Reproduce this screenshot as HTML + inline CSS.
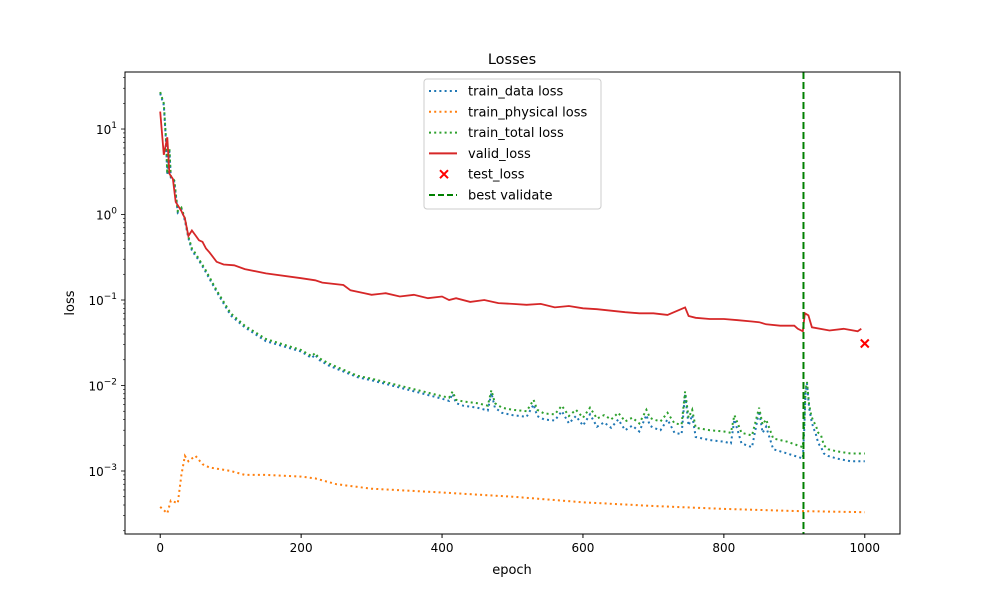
<!DOCTYPE html>
<html><head><meta charset="utf-8"><style>
body{margin:0;background:#fff;}
svg{display:block;font-family:"DejaVu Sans","Liberation Sans",sans-serif;}
</style></head><body>
<svg id="chart" width="1000" height="600"></svg>
<script>
const validEpochs=[0,5,10,13,18,22,30,35,40,45,50,55,60,65,70,80,90,105,120,150,200,220,230,260,270,290,300,320,340,360,380,400,410,420,440,460,480,500,520,540,560,580,600,620,640,660,680,700,720,745,750,760,780,800,820,840,850,860,880,900,905,912,915,920,925,950,970,990,995];
const validLoss=[16,5,8,3,2.6,1.4,1.1,0.9,0.56,0.65,0.57,0.5,0.48,0.4,0.36,0.28,0.26,0.255,0.23,0.205,0.18,0.17,0.16,0.15,0.13,0.12,0.115,0.12,0.11,0.115,0.105,0.11,0.1,0.105,0.095,0.1,0.092,0.09,0.088,0.09,0.082,0.085,0.08,0.078,0.075,0.072,0.07,0.07,0.067,0.082,0.065,0.062,0.06,0.06,0.058,0.056,0.055,0.052,0.05,0.05,0.046,0.043,0.07,0.066,0.048,0.044,0.046,0.043,0.046];
const totalEpochs=[0,5,8,10,13,15,20,25,30,35,40,45,50,55,65,80,100,120,150,200,215,220,225,240,280,300,350,400,410,415,420,430,450,465,470,475,485,500,520,530,535,545,560,570,580,590,600,610,620,630,640,650,660,670,680,690,695,700,710,720,730,740,745,750,755,760,780,800,810,815,825,840,850,855,860,870,890,912,914,916,918,921,924,927,930,934,938,942,948,960,980,1000];
const totalLoss=[27,20,8,3,6,2.8,2.5,1.1,1.2,0.9,0.55,0.4,0.35,0.3,0.22,0.13,0.07,0.05,0.035,0.026,0.022,0.024,0.021,0.018,0.013,0.012,0.0095,0.0075,0.0072,0.0085,0.0068,0.0065,0.0062,0.0058,0.0088,0.0062,0.0055,0.0052,0.005,0.0068,0.0052,0.0047,0.0046,0.0058,0.0044,0.0052,0.0042,0.0055,0.0041,0.0045,0.004,0.0048,0.0038,0.0042,0.0036,0.0052,0.0042,0.004,0.0038,0.0048,0.0036,0.0035,0.0085,0.0042,0.0052,0.0032,0.003,0.0029,0.0028,0.0045,0.0028,0.0026,0.0055,0.0035,0.004,0.0024,0.0022,0.0019,0.0035,0.009,0.011,0.006,0.0045,0.0038,0.0035,0.0028,0.0026,0.002,0.0018,0.0017,0.0016,0.0016];
const dataLoss=[26,19,7.5,2.9,5.8,2.7,2.4,1.05,1.15,0.85,0.53,0.38,0.33,0.29,0.21,0.125,0.066,0.048,0.033,0.025,0.021,0.023,0.02,0.017,0.0125,0.0115,0.009,0.007,0.0066,0.008,0.0062,0.0058,0.0055,0.0051,0.0082,0.0055,0.0048,0.0045,0.0043,0.006,0.0044,0.004,0.0039,0.005,0.0036,0.0044,0.0034,0.0046,0.0033,0.0037,0.0032,0.004,0.003,0.0034,0.0029,0.0045,0.0034,0.0032,0.003,0.004,0.0028,0.0027,0.008,0.0034,0.0045,0.0025,0.0023,0.0022,0.0021,0.004,0.0021,0.0019,0.005,0.0028,0.0033,0.0018,0.0016,0.0014,0.003,0.0085,0.0105,0.0055,0.004,0.0032,0.0028,0.0021,0.0019,0.0016,0.0015,0.0014,0.0013,0.0013];
const physEpochs=[0,10,15,25,30,35,40,45,50,60,70,85,100,120,150,200,220,250,300,400,500,600,700,800,900,1000];
const physLoss=[0.00038,0.00032,0.00045,0.00042,0.0009,0.0015,0.0013,0.0014,0.0015,0.0012,0.0011,0.00105,0.001,0.0009,0.0009,0.00086,0.00082,0.0007,0.00062,0.00056,0.0005,0.00043,0.00039,0.00036,0.00034,0.00033];
const testEpoch=[1000];
const testLoss=[0.031];
const bestEpoch=913;
const xTicks=[0,200,400,600,800,1000];
const yDecades=[-3,-2,-1,0,1];

const NS="http://www.w3.org/2000/svg";
const svg=document.getElementById('chart');
const L=125,R=900,T=72,B=534;
const xMin=-50,xMax=1050,yMaxLog=1.667,yMinLog=-3.737;
const X=v=>L+(v-xMin)/(xMax-xMin)*(R-L);
const Y=v=>T+(yMaxLog-Math.log10(v))/(yMaxLog-yMinLog)*(B-T);
function el(t,a,p){const e=document.createElementNS(NS,t);for(const k in a)e.setAttribute(k,a[k]);(p||svg).appendChild(e);return e;}

const t=el('text',{x:512,y:64,'text-anchor':'middle','font-size':14.5});t.textContent='Losses';



const plot=el('g',{});


const clip=el('clipPath',{id:'c'});el('rect',{x:L,y:T,width:R-L,height:B-T},clip);

function line(xs,ys,color,dash,name,w){
 const d=xs.map((x,i)=>(i?'L':'M')+X(x).toFixed(1)+','+Y(ys[i]).toFixed(1)).join(' ');
 const p=el('path',{d:d,fill:'none',stroke:color,'stroke-width':w||1.5,'stroke-dasharray':dash||'none','clip-path':'url(#c)'},plot);
 
 
}
line(totalEpochs,dataLoss,'#1f77b4','2,3.2','train-data-loss-line',2);
line(physEpochs,physLoss,'#ff7f0e','2,3.2','train-physical-loss-line',2);
line(totalEpochs,totalLoss,'#2ca02c','2,3.2','train-total-loss-line',2);
line(validEpochs,validLoss,'#d62728',null,'valid-loss-line',1.8);
testEpoch.forEach((e,i)=>{const cx=X(e),cy=Y(testLoss[i]);
 const m=el('path',{d:`M${cx-4},${cy-4}L${cx+4},${cy+4}M${cx-4},${cy+4}L${cx+4},${cy-4}`,stroke:'red','stroke-width':2},plot);
 
 });
const bl=el('line',{x1:X(bestEpoch),x2:X(bestEpoch),y1:T,y2:B,stroke:'green','stroke-width':2,'stroke-dasharray':'7,3'},plot);



const fr=el('rect',{x:L,y:T,width:R-L,height:B-T,fill:'none',stroke:'#000','stroke-width':1});



xTicks.forEach(v=>{const x=X(v);el('line',{x1:x,x2:x,y1:B,y2:B+4,stroke:'#000'});
 const tx=el('text',{x:x,y:B+18,'text-anchor':'middle','font-size':12});tx.textContent=v;
 
 });
for(let d=-4;d<=1;d++){for(let m=1;m<10;m++){const v=m*Math.pow(10,d);const lg=Math.log10(v);
 if(lg<yMinLog||lg>yMaxLog)continue;const y=Y(v);
 el('line',{x1:L-(m==1?4:2),x2:L,y1:y,y2:y,stroke:'#000','stroke-width':m==1?0.8:0.6});}}
yDecades.forEach(d=>{const y=Y(Math.pow(10,d));
 const tx=el('text',{x:L-8,y:y+5,'text-anchor':'end','font-size':12});
 tx.innerHTML='10<tspan dy="-6" font-size="9">'+(d<0?'\u2212'+(-d):d)+'</tspan>';
 
 });
const xl=el('text',{x:512,y:574,'text-anchor':'middle','font-size':13});xl.textContent='epoch';


const yl=el('text',{x:74,y:303,'text-anchor':'middle','font-size':13,transform:'rotate(-90 74 303)'});yl.textContent='loss';



const lg=el('g',{});


el('rect',{x:424,y:79,width:177,height:130,rx:3,fill:'#fff','fill-opacity':0.8,stroke:'#ccc'},lg);
const items=[['train_data loss','#1f77b4','dot'],['train_physical loss','#ff7f0e','dot'],['train_total loss','#2ca02c','dot'],['valid_loss','#d62728','solid'],['test_loss','red','x'],['best validate','green','dash']];
items.forEach((it,i)=>{const y=91+i*20.8;const g=el('g',{},lg);
 
 
 if(it[2]=='x'){el('path',{d:`M${444-4},${y-4}L${444+4},${y+4}M${444-4},${y+4}L${444+4},${y-4}`,stroke:it[1],'stroke-width':2},g);}
 else el('line',{x1:429,x2:457,y1:y,y2:y,stroke:it[1],'stroke-width':2,'stroke-dasharray':it[2]=='dot'?'2,3.2':it[2]=='dash'?'6,3':'none'},g);
 const tx=el('text',{x:468,y:y+4.5,'font-size':13},g);tx.textContent=it[0];});
</script>
</body></html>
